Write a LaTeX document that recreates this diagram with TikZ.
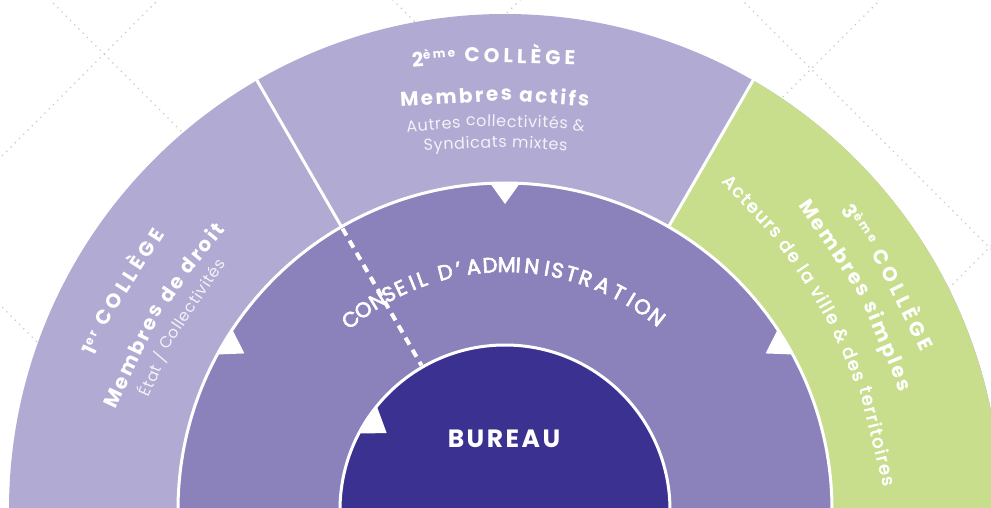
\documentclass[tikz,border=0pt]{standalone}
\usepackage{fontspec}
\setmainfont{Poppins}
\newfontfamily\popfont[LetterSpace=10]{Poppins}
\newfontfamily\poptitre[LetterSpace=20]{Poppins}
\newfontfamily\popsous[LetterSpace=12]{Poppins}
\newfontfamily\popserre[LetterSpace=4]{Poppins}
\newfontfamily\popmoyen[LetterSpace=10, FakeBold=3]{Poppins}

\definecolor{lavande}{HTML}{B1AAD3}
\definecolor{mauve}{HTML}{8B82BC}
\definecolor{indigo}{HTML}{3B3190}
\definecolor{vertclair}{HTML}{C8DE8C}
\definecolor{grisclair}{HTML}{CACACA}

\newcommand{\expo}[1]{\raisebox{7pt}{\fontsize{12}{12}\selectfont #1}}
\newcommand{\fTitre}{\poptitre\bfseries\fontsize{20}{24}\selectfont}
\newcommand{\fSous}{\popsous\bfseries\fontsize{20}{24}\selectfont}
\newcommand{\fDetail}{\popserre\fontsize{16}{19}\selectfont}
\newcommand{\fActeurs}{\popmoyen\fontsize{17.7}{21}\selectfont}

% mots poses sur un arc : nom, style, police, centre, rayon, angle du milieu, mots
\newdimen\lmot
\newdimen\lcumul
\newcommand{\motsarc}[7]{%
  \node[inner sep=0pt] (#1) at (0,0) {%
    \global\lcumul=0pt%
    \foreach \mot [count=\idx] in {#7} {%
      \settowidth{\lmot}{#3\mot}%
      \global\advance\lcumul by 0.5\lmot%
      \expandafter\xdef\csname milieu\idx\endcsname{\the\lcumul}%
      \global\advance\lcumul by 0.5\lmot%
      \settowidth{\lmot}{#3\ }%
      \global\advance\lcumul by \lmot%
    }%
    \global\advance\lcumul by -\lmot%
    \xdef\largtotale{\the\lcumul}%
  };
  \foreach \mot [count=\idx] in {#7} {
    \edef\posmot{\csname milieu\idx\endcsname}
    \pgfmathsetmacro\ang{#6 + (0.5*\largtotale - \posmot)/(#5)*180/pi}
    \node[#2, rotate=\ang-90] (#1\idx) at ([shift={(\ang:#5pt)}]#4) {\mot};
  }
}

\begin{document}
\begin{tikzpicture}[x=1pt, y=1pt,
    pointille/.style={draw=grisclair, line width=1.8pt, line cap=round, dash pattern=on 0pt off 6pt},
    separation/.style={draw=white, line width=3pt},
    bordure/.style={draw=white, line width=3pt},
    fleche/.style={fill=white},
    titre/.style={text=white, inner sep=0pt, anchor=base, font=\fTitre},
    sous/.style={text=white, inner sep=0pt, anchor=base, font=\fSous},
    detail/.style={text=white!85!lavande, inner sep=0pt, anchor=base, font=\fDetail},
    acteurs/.style={text=white, inner sep=0pt, anchor=base, font=\fActeurs},
    lettre/.style={text=white, inner sep=0pt, anchor=base, font=\popmoyen\fontsize{21}{25}\selectfont}
  ]
\useasboundingbox (-505,3) rectangle (486,510);
\clip (-505,3) rectangle (486,510);

% fond : lignes pointillees en losange
\foreach \diag in {747,398,55,-300}
  \draw[pointille] (-600,{\diag+600}) -- (600,{\diag-600});
\foreach \diag in {-857,-495,-135,222}
  \draw[pointille] (-600,{-600-(\diag)}) -- (600,{600-(\diag)});

% colleges
\fill[lavande] (0,0) circle (496pt);
\fill[vertclair] (0,0) -- (-10:496pt) arc[start angle=-10, end angle=60, radius=496pt] -- cycle;
\draw[separation] (60:327pt) -- (60:500pt);
\draw[separation] (120:327pt) -- (120:500pt);

% conseil d'administration
\fill[mauve] (0,0) circle (327pt);
\draw[bordure] (0,0) circle (327pt);
\draw[white, line width=4pt, dash pattern=on 8pt off 6pt] (120:325pt) -- (120:167pt);

% bureau
\fill[indigo] (0,0) circle (165pt);
\draw[bordure] (0,0) circle (165pt);

% fleches
\fill[fleche] (87.4:327pt) -- (92.6:327pt) -- (90:306pt) -- cycle;
\fill[fleche] (146.5:327pt) -- (151.6:327pt) -- (149:304pt) -- cycle;
\fill[fleche] (33.5:327pt) -- (28.4:327pt) -- (31:304pt) -- cycle;
\fill[fleche] (141:165pt) -- (152.3:165pt) -- (147:141pt) -- cycle;

% 2eme college
\motsarc{college2}{titre}{\fTitre}{-7,-303}{750}{90}{{2\expo{ème}},COLLÈGE}
\motsarc{actifs}{sous}{\fSous}{-7,-342}{750}{90}{Membres,actifs}
\motsarc{autres}{detail}{\fDetail}{-7,-367}{750}{90}{Autres,collectivités,\&}
\motsarc{syndicats}{detail}{\fDetail}{-7,-388}{750}{90}{Syndicats,mixtes}

% 1er college
\motsarc{college1}{titre}{\fTitre}{100,-70}{557}{148.65}{{1\expo{er}},COLLÈGE}
\motsarc{droit}{sous}{\fSous}{100,-70}{515}{148.7}{Membres,de,droit}
\motsarc{etat}{detail}{\fDetail}{100,-70}{491}{148.9}{État,\slash,Collectivités}

% 3eme college
\motsarc{college3}{titre}{\fTitre}{-129,-49}{580}{28.4}{{3\expo{ème}},COLLÈGE}
\motsarc{simples}{sous}{\fSous}{-129,-49}{548}{28.45}{Membres,simples}
\motsarc{acteurs}{acteurs}{\fActeurs}{-129,-49}{510}{27.45}{Acteurs,de,la,ville,\&,des,territoires}

% anneaux
\foreach \lettre/\ang [count=\idx] in {C/129.0, O/125.3, N/121.4, S/118.3, E/115.2, I/112.2, L/109.8, D/104.1, ’/100.9, A/97.4, D/93.5, M/89.6, I/86.9, N/83.7, I/80.1, S/77.6, T/74.2, R/70.8, A/66.5, T/62.4, I/59.1, O/55.9, N/51.8}
  \node[lettre, rotate=\ang-90] (conseil\idx) at (\ang:238pt) {\lettre};
\node[text=white, font=\popfont\bfseries\fontsize{25}{30}\selectfont] (bureau) at (-1,71) {BUREAU};
\end{tikzpicture}
\end{document}
